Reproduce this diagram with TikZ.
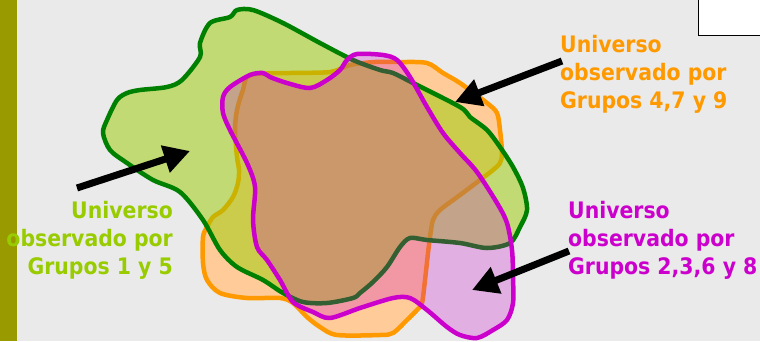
\documentclass[tikz,border=0pt]{standalone}
\usepackage{fontspec}
\newfontfamily\lblfont{DejaVu Sans Condensed}[BoldFont={DejaVu Sans Condensed Bold}]
\usetikzlibrary{arrows.meta}
\definecolor{bggray}{HTML}{EAEAEA}
\definecolor{olivebar}{HTML}{999900}
\definecolor{grpgreen}{HTML}{99CC00}
\definecolor{grpgreenline}{HTML}{008000}
\definecolor{grporange}{HTML}{FF9900}
\definecolor{grporangefill}{HTML}{FFCC99}
\definecolor{grpmagenta}{HTML}{CC00CC}

\begin{document}
\begin{tikzpicture}[x=1pt,y=-1pt,
  blob/.style={line width=4.5pt,line join=round},
  lbl/.style={inner sep=0pt,font=\lblfont\bfseries\fontsize{22.7}{28}\selectfont},
  arr/.style={-{Triangle[length=26pt,width=27pt]},line width=7pt,draw=black}]
\useasboundingbox (0,0) rectangle (760,341);
\fill[bggray] (0,0) rectangle (760,341);
\fill[olivebar] (0,0) rectangle (17,341);
\fill[white] (698,0) rectangle (760,35);
\draw[line width=1pt] (698,0) -- (698,35) -- (760,35);

% universo 4,7 y 9
\draw[blob,draw=grporange,fill=grporangefill] plot[smooth cycle] coordinates {
  (250,75) (290,73) (330,72) (350,65) (375,62) (400,62) (427,63) (443,73)
  (460,83) (487,103) (497,113) (500,130) (502,153) (500,163) (493,170)
  (480,180) (460,195) (440,210) (433,220) (430,237) (428,253) (425,280)
  (422,303) (417,310) (407,320) (393,333) (380,335) (337,335) (320,327)
  (307,317) (293,303) (280,298) (247,298) (220,293) (207,280) (203,263)
  (203,237) (207,227) (213,217) (223,210) (233,197) (238,183) (239,170)
  (237,157) (235,130) (237,110) (243,90)};

% universo 1 y 5
\fill[grpgreen,fill opacity=.5] plot[smooth cycle] coordinates {
  (237,10) (253,10) (283,23) (320,43) (353,60) (380,70) (393,73) (413,83)
  (460,107) (470,117) (487,130) (500,147) (513,167) (523,188) (527,210)
  (520,227) (510,243) (487,248) (460,243) (427,240) (410,238) (400,247)
  (387,267) (373,282) (360,293) (353,298) (327,303) (303,302) (283,293)
  (263,280) (237,267) (220,250) (203,220) (180,192) (153,180) (127,163)
  (110,150) (103,133) (107,120) (117,100) (127,93) (140,90) (167,87)
  (182,80) (200,57) (200,43) (210,23) (230,17)};
\draw[blob,draw=grpgreenline] plot[smooth cycle] coordinates {
  (237,10) (253,10) (283,23) (320,43) (353,60) (380,70) (393,73) (413,83)
  (460,107) (470,117) (487,130) (500,147) (513,167) (523,188) (527,210)
  (520,227) (510,243) (487,248) (460,243) (427,240) (410,238) (400,247)
  (387,267) (373,282) (360,293) (353,298) (327,303) (303,302) (283,293)
  (263,280) (237,267) (220,250) (203,220) (180,192) (153,180) (127,163)
  (110,150) (103,133) (107,120) (117,100) (127,93) (140,90) (167,87)
  (182,80) (200,57) (200,43) (210,23) (230,17)};

% universo 2,3,6 y 8
\fill[grpmagenta,fill opacity=.25] plot[smooth cycle] coordinates {
  (250,75) (263,73) (270,77) (287,83) (310,88) (327,80) (340,70) (347,60)
  (357,54) (383,55) (397,60) (410,77) (427,107) (443,133) (460,153)
  (477,172) (497,203) (507,223) (512,250) (513,277) (513,303) (507,320)
  (493,330) (477,338) (460,335) (447,327) (427,310) (410,298) (393,298)
  (360,308) (330,318) (313,312) (293,302) (280,280) (267,260) (257,247)
  (253,220) (255,187) (247,163) (230,130) (223,113) (223,97) (230,87)};
\draw[blob,draw=grpmagenta] plot[smooth cycle] coordinates {
  (250,75) (263,73) (270,77) (287,83) (310,88) (327,80) (340,70) (347,60)
  (357,54) (383,55) (397,60) (410,77) (427,107) (443,133) (460,153)
  (477,172) (497,203) (507,223) (512,250) (513,277) (513,303) (507,320)
  (493,330) (477,338) (460,335) (447,327) (427,310) (410,298) (393,298)
  (360,308) (330,318) (313,312) (293,302) (280,280) (267,260) (257,247)
  (253,220) (255,187) (247,163) (230,130) (223,113) (223,97) (230,87)};

\node[lbl,text=grpgreen,align=right,anchor=base east] (txtgreen) at (173,274)
  {Universo\\observado por\\Grupos 1 y 5};
\node[lbl,text=grporange,align=left,anchor=base west] (txtorange) at (560,108)
  {Universo\\observado por\\Grupos 4,7 y 9};
\node[lbl,text=grpmagenta,align=left,anchor=base west] (txtmagenta) at (568,274)
  {Universo\\observado por\\Grupos 2,3,6 y 8};

\coordinate (tailgreen) at (77,188);
\coordinate (tipgreen) at (190,151);
\coordinate (tailorange) at (562,61);
\coordinate (tiporange) at (455,102);
\coordinate (tailmagenta) at (569,251);
\coordinate (tipmagenta) at (472,290);
\draw[arr] (tailgreen) -- (tipgreen);
\draw[arr] (tailorange) -- (tiporange);
\draw[arr] (tailmagenta) -- (tipmagenta);
\end{tikzpicture}
\end{document}
